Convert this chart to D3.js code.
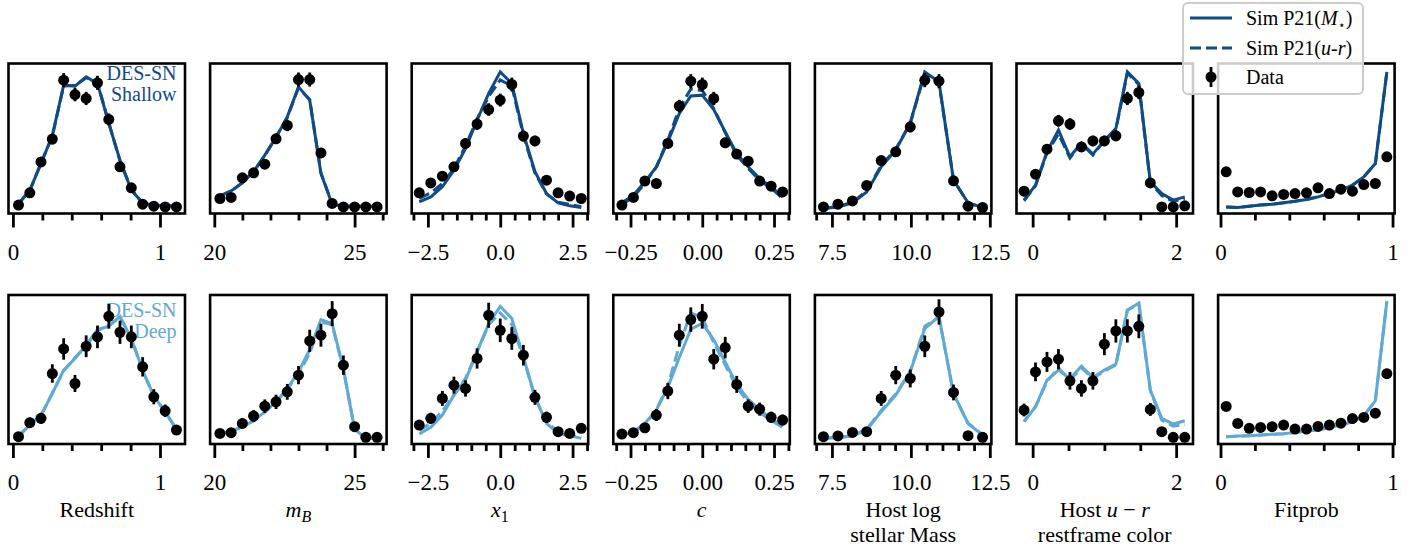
<!DOCTYPE html>
<html>
<head>
<meta charset="utf-8">
<script src="https://cdn.jsdelivr.net/npm/d3@7"></script>
<style>
  body { margin: 0; background: #fff; }
  svg { display: block; font-family: "Liberation Serif", "DejaVu Serif", serif; }
</style>
</head>
<body>
<svg id="chart" width="1422" height="552"></svg>
<script>
// colours for the two survey rows
var darkBlue = "#0f4c86";
var lightBlue = "#5fa9d6";

// bin centres per variable
var zBins = [0.038,0.115,0.191,0.268,0.345,0.422,0.498,0.575,0.652,0.728,0.805,0.882,0.958,1.035,1.112];
var mBins = [20.2,20.6,21.0,21.4,21.8,22.2,22.6,23.0,23.4,23.8,24.2,24.6,25.0,25.4,25.8];
var x1Bins = [-2.8,-2.4,-2.0,-1.6,-1.2,-0.8,-0.4,0,0.4,0.8,1.2,1.6,2.0,2.4,2.8];
var cBins = [-0.28,-0.24,-0.2,-0.16,-0.12,-0.08,-0.04,0,0.04,0.08,0.12,0.16,0.2,0.24,0.28];
var massBins = [7.23,7.69,8.15,8.6,9.06,9.52,9.98,10.44,10.89,11.35,11.81,12.27];
var urBins = [-0.12,0.04,0.2,0.36,0.52,0.68,0.84,1.0,1.16,1.32,1.48,1.64,1.8,1.96,2.12];
var fpBins = [0.033,0.1,0.167,0.233,0.3,0.367,0.433,0.5,0.567,0.633,0.7,0.767,0.833,0.9,0.967];

// ---- DES-SN shallow (normalised counts) ----
var zShData = [0.056,0.138,0.344,0.496,0.889,0.793,0.767,0.871,0.627,0.311,0.171,0.062,0.049,0.044,0.044];
var zShErr = [0.012,0.019,0.029,0.035,0.047,0.045,0.044,0.047,0.04,0.028,0.021,0.012,0.011,0.01,0.01];
var zShSimM = [0.067,0.156,0.333,0.52,0.856,0.849,0.911,0.867,0.6,0.356,0.156,0.071,0.056,0.051,0.051];
var zShSimUR = [0.065,0.152,0.337,0.515,0.85,0.853,0.905,0.872,0.605,0.35,0.16,0.069,0.055,0.05,0.05];

var mShData = [0.1,0.107,0.238,0.271,0.329,0.498,0.587,0.893,0.893,0.404,0.067,0.044,0.044,0.044,0.044];
var mShErr = [0.016,0.016,0.024,0.026,0.029,0.035,0.038,0.047,0.047,0.032,0.013,0.01,0.01,0.01,0.01];
var mShSimM = [0.118,0.151,0.204,0.278,0.389,0.507,0.644,0.844,0.756,0.267,0.062,0.049,0.049,0.049,0.049];
var mShSimUR = [0.116,0.149,0.206,0.28,0.386,0.51,0.64,0.838,0.76,0.27,0.064,0.049,0.049,0.049,0.049];

var x1ShData = [0.138,0.204,0.249,0.311,0.467,0.596,0.693,0.756,0.86,0.516,0.484,0.222,0.138,0.116,0.1];
var x1ShErr = [0.019,0.023,0.025,0.028,0.034,0.039,0.042,0.043,0.046,0.036,0.035,0.024,0.019,0.017,0.016];
var x1ShSimM = [0.078,0.111,0.178,0.289,0.433,0.622,0.8,0.944,0.867,0.533,0.278,0.133,0.071,0.051,0.04];
var x1ShSimUR = [0.1,0.138,0.2,0.3,0.45,0.63,0.78,0.89,0.85,0.52,0.27,0.13,0.075,0.06,0.045];

var cShData = [0.056,0.107,0.216,0.2,0.467,0.716,0.882,0.86,0.767,0.471,0.396,0.349,0.216,0.182,0.144];
var cShErr = [0.012,0.016,0.023,0.022,0.034,0.042,0.047,0.046,0.044,0.034,0.031,0.03,0.023,0.021,0.019];
var cShSimM = [0.071,0.122,0.211,0.311,0.478,0.667,0.784,0.789,0.693,0.544,0.4,0.311,0.233,0.178,0.111];
var cShSimUR = [0.06,0.11,0.2,0.31,0.49,0.7,0.83,0.82,0.7,0.54,0.39,0.3,0.22,0.17,0.1];

var massShData = [0.044,0.062,0.084,0.187,0.353,0.411,0.578,0.889,0.882,0.218,0.049,0.04];
var massShErr = [0.01,0.012,0.014,0.022,0.03,0.032,0.038,0.047,0.047,0.023,0.011,0.01];
var massShSimM = [0.033,0.044,0.071,0.144,0.311,0.422,0.604,0.944,0.878,0.222,0.071,0.04];
var massShSimUR = [0.035,0.046,0.075,0.15,0.32,0.43,0.6,0.935,0.87,0.225,0.07,0.042];

var urShData = [0.149,0.262,0.429,0.618,0.596,0.444,0.484,0.484,0.518,0.767,0.807,0.204,0.044,0.044,0.051];
var urShErr = [0.019,0.026,0.033,0.039,0.039,0.033,0.035,0.035,0.036,0.044,0.045,0.023,0.01,0.01,0.011];
var urShSimM = [0.089,0.189,0.411,0.556,0.378,0.471,0.396,0.489,0.567,0.944,0.867,0.211,0.133,0.089,0.111];
var urShSimUR = [0.085,0.185,0.405,0.53,0.37,0.465,0.39,0.485,0.56,0.935,0.86,0.205,0.12,0.08,0.1];

var fpShData = [0.278,0.144,0.14,0.144,0.118,0.127,0.133,0.138,0.171,0.133,0.162,0.149,0.193,0.2,0.378];
var fpShErr = [0.02,0.014,0.014,0.014,0.012,0.013,0.013,0.014,0.015,0.013,0.015,0.014,0.016,0.016,0.022];
var fpShSimM = [0.044,0.04,0.049,0.056,0.062,0.071,0.082,0.093,0.111,0.133,0.156,0.189,0.244,0.333,0.944];
var fpShSimUR = [0.044,0.04,0.049,0.056,0.062,0.071,0.082,0.093,0.111,0.133,0.156,0.189,0.244,0.333,0.944];

// ---- DES-SN deep ----
var zDpData = [0.049,0.143,0.172,0.473,0.638,0.406,0.656,0.719,0.857,0.75,0.719,0.518,0.317,0.223,0.094];
var zDpErr = [0.02,0.034,0.037,0.062,0.072,0.057,0.073,0.076,0.083,0.078,0.076,0.065,0.051,0.042,0.028];
var zDpSimM = [0.054,0.127,0.194,0.339,0.496,0.574,0.663,0.768,0.79,0.857,0.708,0.496,0.321,0.217,0.098];
var zDpSimUR = [0.052,0.13,0.19,0.343,0.49,0.58,0.657,0.762,0.795,0.85,0.712,0.49,0.325,0.213,0.1];

var mDpData = [0.071,0.076,0.138,0.188,0.254,0.283,0.35,0.462,0.692,0.73,0.875,0.529,0.116,0.045,0.045];
var mDpErr = [0.024,0.025,0.033,0.039,0.045,0.048,0.053,0.061,0.075,0.077,0.084,0.065,0.031,0.019,0.019];
var mDpSimM = [0.067,0.083,0.116,0.154,0.217,0.283,0.373,0.484,0.634,0.835,0.808,0.507,0.098,0.038,0.038];
var mDpSimUR = [0.069,0.085,0.118,0.156,0.214,0.28,0.368,0.47,0.61,0.82,0.8,0.5,0.1,0.04,0.04];

var x1DpData = [0.127,0.172,0.306,0.395,0.373,0.574,0.864,0.763,0.708,0.596,0.313,0.179,0.083,0.071,0.105];
var x1DpErr = [0.032,0.037,0.05,0.057,0.055,0.068,0.084,0.079,0.076,0.069,0.05,0.038,0.026,0.024,0.029];
var x1DpSimM = [0.067,0.112,0.194,0.328,0.429,0.618,0.808,0.924,0.842,0.585,0.317,0.138,0.071,0.056,0.038];
var x1DpSimUR = [0.09,0.14,0.22,0.33,0.44,0.62,0.8,0.88,0.8,0.58,0.31,0.15,0.08,0.06,0.045];

var cDpData = [0.067,0.076,0.109,0.194,0.355,0.73,0.835,0.857,0.569,0.647,0.4,0.254,0.234,0.179,0.161];
var cDpErr = [0.023,0.025,0.03,0.04,0.054,0.077,0.082,0.083,0.068,0.072,0.057,0.045,0.044,0.038,0.036];
var cDpSimM = [0.06,0.083,0.138,0.228,0.38,0.58,0.77,0.81,0.7,0.55,0.4,0.3,0.23,0.17,0.12];
var cDpSimUR = [0.06,0.08,0.13,0.23,0.39,0.66,0.88,0.85,0.68,0.53,0.38,0.28,0.21,0.16,0.11];

var massDpData = [0.049,0.054,0.078,0.083,0.306,0.462,0.44,0.656,0.886,0.346,0.056,0.045];
var massDpErr = [0.02,0.021,0.025,0.026,0.05,0.061,0.06,0.073,0.085,0.053,0.021,0.019];
var massDpSimM = [0.038,0.042,0.054,0.094,0.217,0.328,0.484,0.775,0.857,0.339,0.138,0.06];
var massDpSimUR = [0.04,0.044,0.056,0.1,0.225,0.335,0.49,0.79,0.85,0.335,0.14,0.062];

var urDpData = [0.228,0.484,0.551,0.569,0.424,0.373,0.424,0.67,0.759,0.759,0.79,0.232,0.083,0.045,0.045];
var urDpErr = [0.043,0.063,0.067,0.068,0.059,0.055,0.059,0.074,0.078,0.078,0.08,0.043,0.026,0.019,0.019];
var urDpSimM = [0.15,0.25,0.429,0.496,0.44,0.522,0.446,0.496,0.536,0.897,0.946,0.362,0.172,0.134,0.156];
var urDpSimUR = [0.15,0.25,0.42,0.51,0.43,0.51,0.44,0.49,0.53,0.9,0.94,0.36,0.16,0.12,0.13];

var fpDpData = [0.252,0.138,0.105,0.111,0.116,0.127,0.1,0.1,0.118,0.127,0.14,0.171,0.178,0.207,0.472];
var fpDpErr = [0.025,0.018,0.016,0.016,0.017,0.017,0.015,0.015,0.017,0.017,0.018,0.02,0.02,0.022,0.033];
var fpDpSimM = [0.049,0.053,0.056,0.06,0.065,0.069,0.078,0.085,0.096,0.109,0.127,0.149,0.189,0.29,0.958];
var fpDpSimUR = [0.049,0.053,0.056,0.06,0.065,0.069,0.078,0.085,0.096,0.109,0.127,0.149,0.189,0.29,0.958];

// axis setup per column
var xLims = [[-0.03,1.17],[19.85,26.14],[-3.06,3.04],[-0.31,0.305],[6.96,12.55],[-0.225,2.235],[-0.014,1.012]];
var majorTicks = [[0,1],[20,25],[-2.5,0,2.5],[-0.25,0,0.25],[7.5,10,12.5],[0,2],[0,1]];
var minorTicks = [[0.2,0.4,0.6,0.8],[21,22,23,24,26],[-3,-2,-1.5,-1,-0.5,0.5,1,1.5,2,3],
  [-0.3,-0.2,-0.15,-0.1,-0.05,0.05,0.1,0.15,0.2,0.3],[7,8,8.5,9,9.5,10.5,11,11.5,12],[0.5,1,1.5],[0.2,0.4,0.6,0.8]];
var tickDigits = [0,0,1,2,1,0,0];

var colBins = [zBins, mBins, x1Bins, cBins, massBins, urBins, fpBins];
var shallowRows = [
  [zShData,zShErr,zShSimM,zShSimUR],[mShData,mShErr,mShSimM,mShSimUR],[x1ShData,x1ShErr,x1ShSimM,x1ShSimUR],
  [cShData,cShErr,cShSimM,cShSimUR],[massShData,massShErr,massShSimM,massShSimUR],
  [urShData,urShErr,urShSimM,urShSimUR],[fpShData,fpShErr,fpShSimM,fpShSimUR]];
var deepRows = [
  [zDpData,zDpErr,zDpSimM,zDpSimUR],[mDpData,mDpErr,mDpSimM,mDpSimUR],[x1DpData,x1DpErr,x1DpSimM,x1DpSimUR],
  [cDpData,cDpErr,cDpSimM,cDpSimUR],[massDpData,massDpErr,massDpSimM,massDpSimUR],
  [urDpData,urDpErr,urDpSimM,urDpSimUR],[fpDpData,fpDpErr,fpDpSimM,fpDpSimUR]];

var svg = d3.select("#chart");
var panelW = 176.5, colStep = 201.6, left0 = 8.5;
var rows = [
  {top: 63.5, h: 150, color: darkBlue, sets: shallowRows, label: ["DES-SN","Shallow"], ly: [80, 101]},
  {top: 295, h: 149, color: lightBlue, sets: deepRows, label: ["DES-SN","Deep"], ly: [317, 338]}
];

function fmtTick(d, digits) {
  var s = d3.format("." + digits + "f")(d);
  return s.replace("-", "\u2212");
}

rows.forEach(function(row, ri) {
  for (var ci = 0; ci < 7; ci++) {
    var left = left0 + ci * colStep;
    var x = d3.scaleLinear().domain(xLims[ci]).range([left, left + panelW]);
    var y = d3.scaleLinear().domain([0, 1]).range([row.top + row.h, row.top]);
    var g = svg.append("g");
    var bins = colBins[ci];
    var set = row.sets[ci];

    if (ci == 0) {
      g.append("text").attr("x", left + 168).attr("y", row.ly[0]).attr("text-anchor", "end")
        .attr("font-size", 20).attr("fill", row.color).text(row.label[0]);
      g.append("text").attr("x", left + 168).attr("y", row.ly[1]).attr("text-anchor", "end")
        .attr("font-size", 20).attr("fill", row.color).text(row.label[1]);
    }

    var line = d3.line().x(function(d, i){ return x(bins[i]); }).y(function(d){ return y(d); });
    g.append("path").datum(set[3]).attr("d", line).attr("fill", "none")
      .attr("stroke", row.color).attr("stroke-width", 3).attr("stroke-dasharray", "11,5");
    g.append("path").datum(set[2]).attr("d", line).attr("fill", "none")
      .attr("stroke", row.color).attr("stroke-width", 3);

    // data points with error bars
    var pts = set[0].map(function(v, i){ return {x: bins[i], v: v, e: set[1][i]}; });
    g.selectAll(".eb").data(pts).enter().append("line")
      .attr("x1", function(d){ return x(d.x); }).attr("x2", function(d){ return x(d.x); })
      .attr("y1", function(d){ return y(d.v - d.e); }).attr("y2", function(d){ return y(d.v + d.e); })
      .attr("stroke", "#000").attr("stroke-width", 2.8);
    g.selectAll(".pt").data(pts).enter().append("circle")
      .attr("cx", function(d){ return x(d.x); }).attr("cy", function(d){ return y(d.v); })
      .attr("r", 5.5).attr("fill", "#000");

    // frame
    g.append("rect").attr("x", left).attr("y", row.top).attr("width", panelW).attr("height", row.h)
      .attr("fill", "none").attr("stroke", "#000").attr("stroke-width", 2.6);

    // axes
    var digits = tickDigits[ci];
    var ax = g.append("g").attr("transform", "translate(0," + (row.top + row.h) + ")")
      .call(d3.axisBottom(x).tickValues(majorTicks[ci]).tickSize(14)
        .tickFormat(function(d){ return fmtTick(d, digits); }));
    ax.select(".domain").remove();
    ax.selectAll("line").attr("stroke", "#000").attr("stroke-width", 2.8);
    ax.selectAll("text").attr("dy", null).attr("y", 46)
      .attr("font-size", 23).attr("font-family", "Liberation Serif").attr("fill", "#000");
    var axm = g.append("g").attr("transform", "translate(0," + (row.top + row.h) + ")")
      .call(d3.axisBottom(x).tickValues(minorTicks[ci]).tickSize(7).tickFormat(""));
    axm.select(".domain").remove();
    axm.selectAll("line").attr("stroke", "#000").attr("stroke-width", 2.8);
  }
});

// x labels under bottom row
var labelY1 = 517, labelY2 = 542;
function colCenter(ci){ return left0 + ci * colStep + panelW / 2; }
var lab = svg.append("g").attr("font-size", 22).attr("text-anchor", "middle").attr("fill", "#000");
lab.append("text").attr("x", colCenter(0)).attr("y", labelY1).text("Redshift");
var t1 = lab.append("text").attr("x", colCenter(1)).attr("y", labelY1);
t1.append("tspan").attr("font-style", "italic").text("m");
t1.append("tspan").attr("font-style", "italic").attr("font-size", 16).attr("dy", 5).text("B");
var t2 = lab.append("text").attr("x", colCenter(2)).attr("y", labelY1);
t2.append("tspan").attr("font-style", "italic").text("x");
t2.append("tspan").attr("font-size", 16).attr("dy", 5).text("1");
lab.append("text").attr("x", colCenter(3)).attr("y", labelY1).attr("font-style", "italic").text("c");
lab.append("text").attr("x", colCenter(4)).attr("y", labelY1).text("Host log");
lab.append("text").attr("x", colCenter(4)).attr("y", labelY2).text("stellar Mass");
var t5 = lab.append("text").attr("x", colCenter(5)).attr("y", labelY1);
t5.append("tspan").text("Host ");
t5.append("tspan").attr("font-style", "italic").text("u");
t5.append("tspan").text(" \u2212 ");
t5.append("tspan").attr("font-style", "italic").text("r");
lab.append("text").attr("x", colCenter(5)).attr("y", labelY2).text("restframe color");
lab.append("text").attr("x", colCenter(6)).attr("y", labelY1).text("Fitprob");

// legend
var leg = svg.append("g");
leg.append("rect").attr("x", 1183).attr("y", 3).attr("width", 180).attr("height", 91).attr("rx", 5)
  .attr("fill", "#fff").attr("fill-opacity", 0.8).attr("stroke", "#cccccc").attr("stroke-width", 2);
leg.append("line").attr("x1", 1190).attr("x2", 1232).attr("y1", 18).attr("y2", 18)
  .attr("stroke", darkBlue).attr("stroke-width", 3);
leg.append("line").attr("x1", 1190).attr("x2", 1232).attr("y1", 48).attr("y2", 48)
  .attr("stroke", darkBlue).attr("stroke-width", 3).attr("stroke-dasharray", "11,5");
leg.append("line").attr("x1", 1211).attr("x2", 1211).attr("y1", 67).attr("y2", 87)
  .attr("stroke", "#000").attr("stroke-width", 2.8);
leg.append("circle").attr("cx", 1211).attr("cy", 77).attr("r", 5.5).attr("fill", "#000");
var lt = leg.append("g").attr("font-size", 20).attr("fill", "#000");
var l1 = lt.append("text").attr("x", 1246).attr("y", 25);
l1.append("tspan").text("Sim P21(");
l1.append("tspan").attr("font-style", "italic").text("M");
l1.append("tspan").attr("font-size", 12).attr("dy", 4).text("\u22c6");
l1.append("tspan").attr("dy", -4).text(")");
var l2 = lt.append("text").attr("x", 1246).attr("y", 55);
l2.append("tspan").text("Sim P21(");
l2.append("tspan").attr("font-style", "italic").text("u");
l2.append("tspan").text("-");
l2.append("tspan").attr("font-style", "italic").text("r");
l2.append("tspan").text(")");
lt.append("text").attr("x", 1246).attr("y", 84).text("Data");
</script>
</body>
</html>
